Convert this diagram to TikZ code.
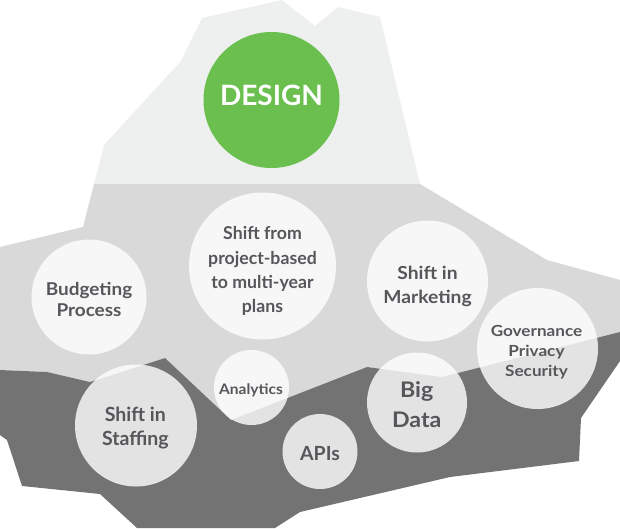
\documentclass[tikz,border=0pt]{standalone}
\usepackage{fontspec}
\setmainfont{Lato}
\definecolor{lightg}{HTML}{EEEFEF}
\definecolor{midg}{HTML}{D9D9D9}
\definecolor{darkg}{HTML}{737373}
\definecolor{green}{HTML}{6ABF4F}
\definecolor{txtg}{HTML}{56575A}
\newcommand\wx[2]{\scalebox{#1}[1]{#2}}
\begin{document}
\begin{tikzpicture}[x=1pt,y=-1pt,
  bubble/.style={circle, fill=white, fill opacity=0.8, draw=none, inner sep=0pt},
  lbl/.style={anchor=base, text=txtg, inner sep=0pt, font=\bfseries\fontsize{#1}{#1}\selectfont},
  lbl/.default=18]
\useasboundingbox (0,0) rectangle (620,528);
% regions
\fill[lightg] (202,18) -- (282,0) -- (315,26) -- (338,7) -- (380,17) -- (420,184) -- (94,184) -- (104,145) -- (181,61) -- cycle;
\fill[midg] (94,184) -- (420,184) -- (547,260) -- (620,280) -- (620,332) -- (442,377) -- (367,367) -- (231,420) -- (165,358) -- (90,382) -- (47,372) -- (0,370) -- (0,247) -- (83,227) -- cycle;
\fill[darkg] (0,370) -- (47,372) -- (90,382) -- (165,358) -- (231,420) -- (367,367) -- (442,377) -- (620,332) -- (620,361) -- (581,418) -- (579,461) -- (450,477) -- (300,512) -- (275,528) -- (137,528) -- (100,494) -- (22,486) -- (7,440) -- (0,435) -- cycle;
% design
\node[circle, fill=green, inner sep=0pt, minimum size=136pt] (design) at (271.5,100) {};
\node[anchor=base, text=white, inner sep=0pt, font=\bfseries\fontsize{28}{28}\selectfont] (designT) at (271.5,105) {DESIGN};
% bubbles
\node[bubble, minimum size=147pt] (project) at (262.5,266) {};
\node[bubble, minimum size=115pt] (budget) at (89,297) {};
\node[bubble, minimum size=121pt] (market) at (427.5,281) {};
\node[bubble, minimum size=121pt] (gov) at (537.5,348.5) {};
\node[bubble, minimum size=100pt] (bigdata) at (417,402.5) {};
\node[bubble, minimum size=122pt] (staff) at (136,425.5) {};
\node[bubble, minimum size=75pt] (analytics) at (251.5,387.5) {};
\node[bubble, minimum size=75pt] (apis) at (320,451.5) {};
% labels
\node[lbl=17.7] (project1) at (262.5,239.5) {Shift from};
\node[lbl=17.7] (project2) at (262.5,264) {project-based};
\node[lbl=17.7] (project3) at (262.5,288) {to multi-year};
\node[lbl=17.7] (project4) at (262.5,312) {plans};
\node[lbl=17.7] (budget1) at (89,295) {\wx{1.07}{Budgeting}};
\node[lbl=17.7] (budget2) at (89,316.7) {\wx{1.07}{Process}};
\node[lbl=18] (market1) at (427.5,279.3) {\wx{1.07}{Shift in}};
\node[lbl=18] (market2) at (427.5,303.3) {\wx{1.07}{Marketing}};
\node[lbl=15.3] (gov1) at (536.5,336) {\wx{1.12}{Governance}};
\node[lbl=15.3] (gov2) at (536.5,356.3) {\wx{1.12}{Privacy}};
\node[lbl=15.3] (gov3) at (536.5,376.7) {\wx{1.12}{Security}};
\node[lbl=21.5] (bigdata1) at (416.7,397.3) {\wx{1.08}{Big}};
\node[lbl=21.5] (bigdata2) at (416.7,427.3) {\wx{1.08}{Data}};
\node[lbl=19.5] (staff1) at (135.3,421.7) {Shift in};
\node[lbl=19.5] (staff2) at (135.3,445.7) {Staffing};
\node[lbl=14.5] (analyticsT) at (251,394) {\wx{1.07}{Analytics}};
\node[lbl=19.5] (apisT) at (320,460) {APIs};
\end{tikzpicture}
\end{document}
